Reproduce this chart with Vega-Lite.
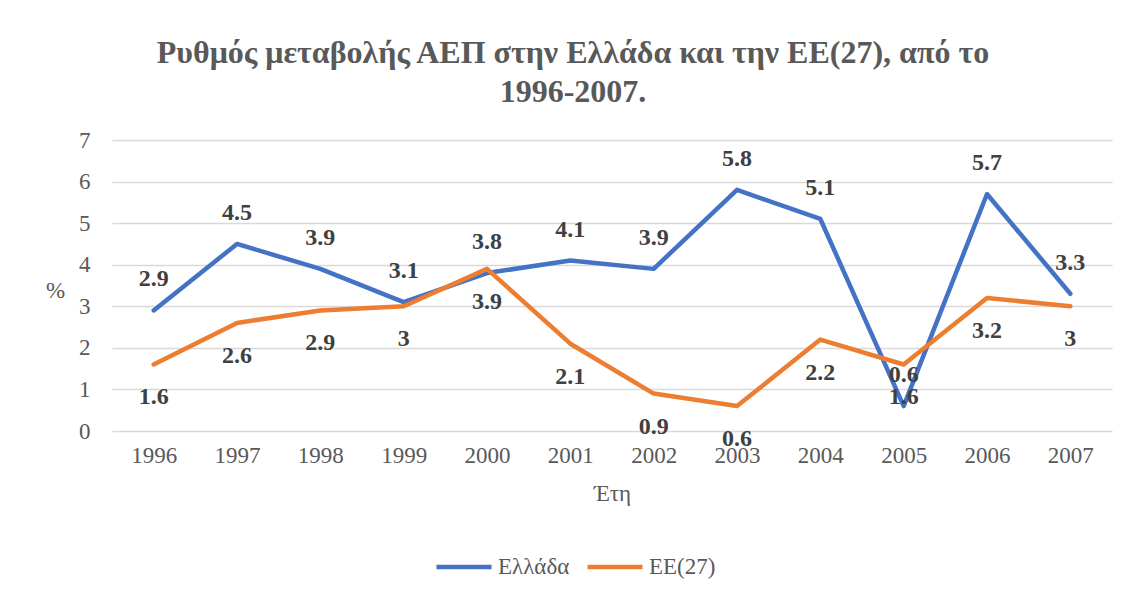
{
  "$schema": "https://vega.github.io/schema/vega-lite/v6.json",
  "autosize": {"type": "none"},
  "padding": {"left": 112, "top": 140, "right": 19, "bottom": 164},
  "width": 1000,
  "height": 291,
  "background": "white",
  "title": {
    "text": ["Ρυθμός μεταβολής ΑΕΠ  στην Ελλάδα και την ΕΕ(27), από το", "1996-2007."],
    "font": "Liberation Serif",
    "fontSize": 32,
    "fontWeight": "bold",
    "color": "#595959",
    "anchor": "middle",
    "dx": -39,
    "lineHeight": 39,
    "offset": 20
  },
  "data": {
    "values": [
      {"year": "1996", "series": "Ελλάδα", "value": 2.9},
      {"year": "1997", "series": "Ελλάδα", "value": 4.5},
      {"year": "1998", "series": "Ελλάδα", "value": 3.9},
      {"year": "1999", "series": "Ελλάδα", "value": 3.1},
      {"year": "2000", "series": "Ελλάδα", "value": 3.8},
      {"year": "2001", "series": "Ελλάδα", "value": 4.1},
      {"year": "2002", "series": "Ελλάδα", "value": 3.9},
      {"year": "2003", "series": "Ελλάδα", "value": 5.8},
      {"year": "2004", "series": "Ελλάδα", "value": 5.1},
      {"year": "2005", "series": "Ελλάδα", "value": 0.6},
      {"year": "2006", "series": "Ελλάδα", "value": 5.7},
      {"year": "2007", "series": "Ελλάδα", "value": 3.3},
      {"year": "1996", "series": "ΕΕ(27)", "value": 1.6},
      {"year": "1997", "series": "ΕΕ(27)", "value": 2.6},
      {"year": "1998", "series": "ΕΕ(27)", "value": 2.9},
      {"year": "1999", "series": "ΕΕ(27)", "value": 3},
      {"year": "2000", "series": "ΕΕ(27)", "value": 3.9},
      {"year": "2001", "series": "ΕΕ(27)", "value": 2.1},
      {"year": "2002", "series": "ΕΕ(27)", "value": 0.9},
      {"year": "2003", "series": "ΕΕ(27)", "value": 0.6},
      {"year": "2004", "series": "ΕΕ(27)", "value": 2.2},
      {"year": "2005", "series": "ΕΕ(27)", "value": 1.6},
      {"year": "2006", "series": "ΕΕ(27)", "value": 3.2},
      {"year": "2007", "series": "ΕΕ(27)", "value": 3}
    ]
  },
  "encoding": {
    "x": {
      "field": "year",
      "type": "ordinal",
      "scale": {"type": "point", "padding": 0.5},
      "axis": {
        "title": "Έτη",
        "labelAngle": 0,
        "labelFont": "Liberation Serif",
        "labelFontSize": 23,
        "labelColor": "#595959",
        "labelPadding": 13,
        "ticks": false,
        "domain": false,
        "grid": false,
        "titleFont": "Liberation Serif",
        "titleFontSize": 23,
        "titleFontWeight": "normal",
        "titleColor": "#595959",
        "titlePadding": 15
      }
    },
    "y": {
      "field": "value",
      "type": "quantitative",
      "scale": {"domain": [0, 7], "nice": false},
      "axis": {
        "values": [0, 1, 2, 3, 4, 5, 6, 7],
        "title": "%",
        "titleAngle": 0,
        "titleX": -57,
        "titleY": 150,
        "titleAlign": "center",
        "titleBaseline": "middle",
        "titleFont": "Liberation Serif",
        "titleFontSize": 23,
        "titleFontWeight": "normal",
        "titleColor": "#595959",
        "labelFont": "Liberation Serif",
        "labelFontSize": 23,
        "labelColor": "#595959",
        "labelPadding": 22,
        "ticks": false,
        "domain": false,
        "grid": true,
        "gridColor": "#D9D9D9",
        "gridWidth": 1.3
      }
    }
  },
  "layer": [
    {
      "mark": {"type": "line", "strokeWidth": 4.5, "strokeCap": "round", "strokeJoin": "round"},
      "encoding": {
        "color": {
          "field": "series",
          "type": "nominal",
          "scale": {"domain": ["Ελλάδα", "ΕΕ(27)"], "range": ["#4472C4", "#ED7D31"]},
          "legend": {
            "title": null,
            "orient": "none",
            "direction": "horizontal",
            "legendX": 322,
            "legendY": 397,
            "symbolType": "stroke",
            "symbolSize": 3025,
            "symbolStrokeWidth": 4.5,
            "labelFont": "Liberation Serif",
            "labelFontSize": 23,
            "labelColor": "#595959",
            "labelOffset": 4,
            "columnPadding": 8
          }
        }
      }
    },
    {
      "transform": [{"filter": "datum.series === 'Ελλάδα'"}],
      "mark": {"type": "text", "dy": -31, "font": "Liberation Serif", "fontSize": 24, "fontWeight": "bold", "color": "#404040"},
      "encoding": {"text": {"field": "value", "type": "quantitative"}}
    },
    {
      "transform": [{"filter": "datum.series === 'ΕΕ(27)'"}],
      "mark": {"type": "text", "dy": 33, "font": "Liberation Serif", "fontSize": 24, "fontWeight": "bold", "color": "#404040"},
      "encoding": {"text": {"field": "value", "type": "quantitative"}}
    }
  ],
  "config": {"view": {"stroke": null}}
}
